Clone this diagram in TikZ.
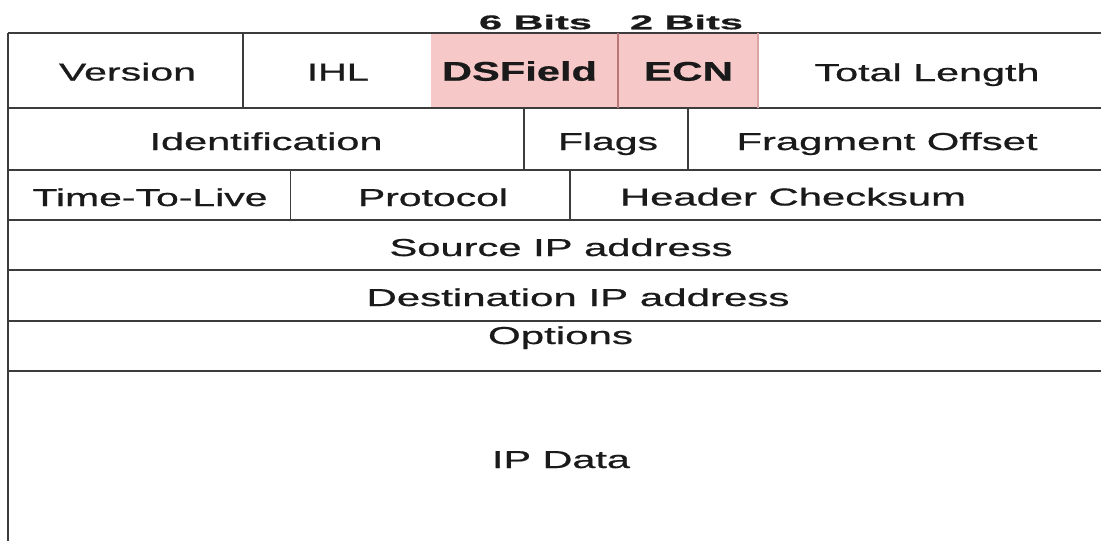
\documentclass[tikz,border=0pt]{standalone}
\usepackage{fontspec}
\setmainfont{Liberation Sans}
\newfontfamily\labelfont{Liberation Sans}[FakeBold=0.6]
\usepackage{graphicx}
\definecolor{linegray}{HTML}{3C3C3C}
\definecolor{ink}{HTML}{1A1A1A}
\definecolor{dspink}{HTML}{F7C8C8}
\definecolor{dsedge}{HTML}{B87878}
\definecolor{ecnedge}{HTML}{D8A4A4}
% wide label: text of a given size, stretched to a given width
\newcommand{\widelabel}[3]{\resizebox{#1pt}{\height}{\fontsize{#2}{#2}\selectfont #3}}
\begin{document}
\begin{tikzpicture}[x=1pt,y=-1pt,
  rule/.style={draw=linegray, line width=1.5pt},
  lbl/.style={inner sep=0pt, anchor=base, text=ink, font=\labelfont}]
\useasboundingbox (0,0) rectangle (1101,541);

% DS field and ECN background
\fill[dspink] (431,33) rectangle (758,108);

% horizontal rules of the header rows
\foreach \yy in {33,108,170,220,270,321}
  \draw[rule] (8,\yy) -- (1101,\yy);
\draw[rule, line width=2.2pt] (8,371) -- (1101,371);
% left edge
\draw[rule] (8,33) -- (8,541);

% row 1 dividers
\draw[rule] (243,33) -- (243,108);
\draw[draw=dsedge, line width=1.4pt] (618,33) -- (618,108);
\draw[draw=ecnedge, line width=1.4pt] (758,33) -- (758,108);
% row 2 dividers
\draw[rule] (524,108) -- (524,170);
\draw[rule] (688,108) -- (688,170);
% row 3 dividers
\draw[rule] (290.5,170) -- (290.5,220);
\draw[rule] (570,170) -- (570,220);

% bit widths above the DS field and ECN
\node[lbl] (six) at (535.5,29.3) {\widelabel{113}{20}{\bfseries 6 Bits}};
\node[lbl] (two) at (686.5,29.3) {\widelabel{113}{20}{\bfseries 2 Bits}};

% row 1
\node[lbl] (version) at (127.5,80.5) {\widelabel{137}{24.5}{Version}};
\node[lbl] (ihl) at (338,80.5) {\widelabel{62}{24.5}{IHL}};
\node[lbl] (dsfield) at (519.5,80.7) {\widelabel{155}{27}{\bfseries DSField}};
\node[lbl] (ecn) at (688.5,80.7) {\widelabel{89}{27}{\bfseries ECN}};
\node[lbl] (totlen) at (927,81) {\widelabel{225}{24.5}{Total Length}};

% row 2
\node[lbl] (ident) at (266,150) {\widelabel{233}{24.5}{Identification}};
\node[lbl] (flags) at (608,150) {\widelabel{100}{24.5}{Flags}};
\node[lbl] (fragoff) at (887,150) {\widelabel{301}{24.5}{Fragment Offset}};

% row 3
\node[lbl] (ttl) at (150,206) {\widelabel{235}{24.5}{Time-To-Live}};
\node[lbl] (proto) at (433,206) {\widelabel{150}{24.5}{Protocol}};
\node[lbl] (cksum) at (793,205.5) {\widelabel{346}{24.5}{Header Checksum}};

% address rows, options and payload
\node[lbl] (srcip) at (561,256) {\widelabel{343}{24.5}{Source IP address}};
\node[lbl] (dstip) at (578,306) {\widelabel{423}{24.5}{Destination IP address}};
\node[lbl] (options) at (560.5,344) {\widelabel{145}{24.5}{Options}};
\node[lbl] (ipdata) at (561,468) {\widelabel{138}{24.5}{IP Data}};
\end{tikzpicture}
\end{document}
